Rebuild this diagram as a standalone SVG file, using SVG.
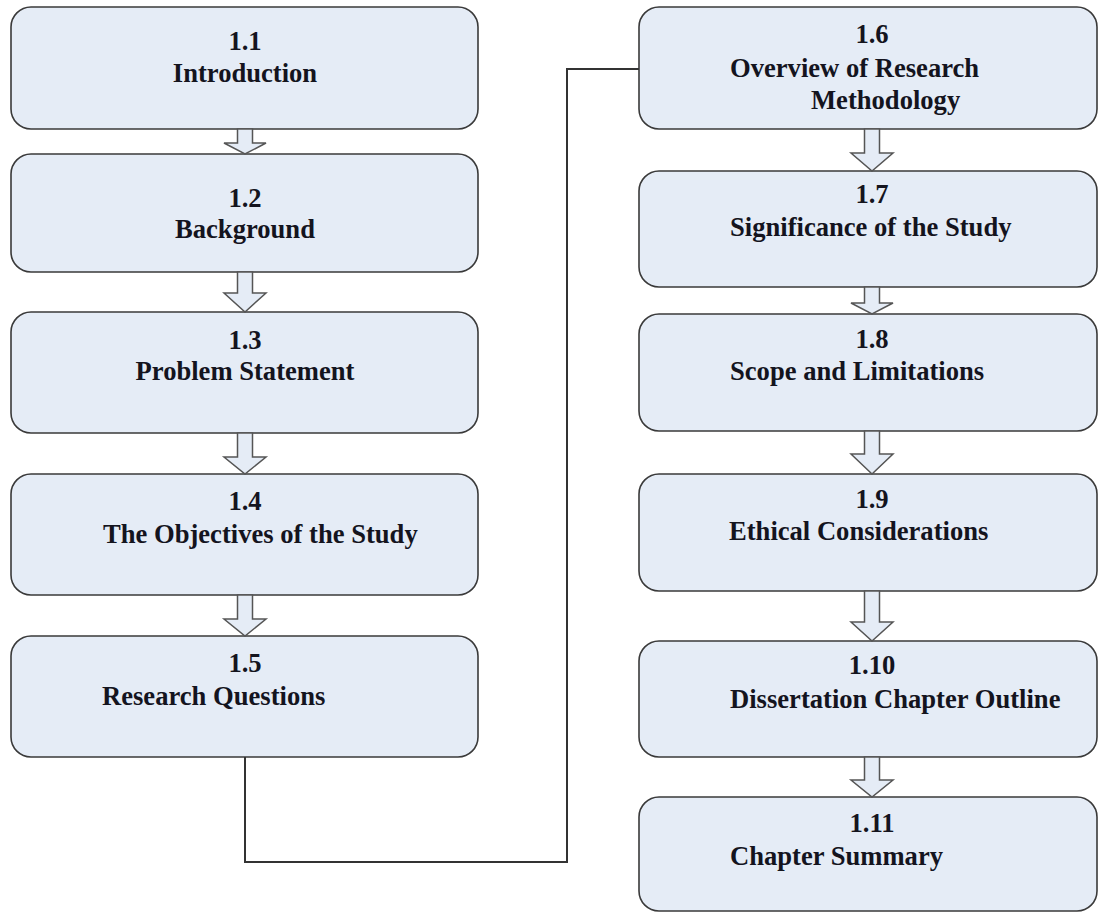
<svg xmlns="http://www.w3.org/2000/svg" width="1098" height="913" viewBox="0 0 1098 913">
<style>
.box{fill:#e5ecf6;stroke:#3a3a3a;stroke-width:1.6}
.t{font-family:"Liberation Serif","Times New Roman",serif;font-weight:bold;font-size:26.6px;fill:#14141e}
.c{text-anchor:middle}
.arr{fill:#e5ecf6;stroke:#555;stroke-width:1.5;stroke-linejoin:miter}
.line{fill:none;stroke:#333;stroke-width:2}
</style>
<rect width="1098" height="913" fill="#fff"/>
<g id="n1-1"><rect class="box" x="11" y="7" width="467" height="122" rx="20"/><text class="t c" x="245" y="50">1.1</text><text class="t c" x="245" y="82">Introduction</text></g>
<g id="n1-2"><rect class="box" x="11" y="154" width="467" height="118" rx="20"/><text class="t c" x="245" y="207">1.2</text><text class="t c" x="245" y="238">Background</text></g>
<g id="n1-3"><rect class="box" x="11" y="312" width="467" height="121" rx="20"/><text class="t c" x="245" y="349">1.3</text><text class="t c" x="245" y="380">Problem Statement</text></g>
<g id="n1-4"><rect class="box" x="11" y="474" width="467" height="121" rx="20"/><text class="t c" x="245" y="510">1.4</text><text class="t" x="103" y="543">The Objectives of the Study</text></g>
<g id="n1-5"><rect class="box" x="11" y="636" width="467" height="121" rx="20"/><text class="t c" x="245" y="672">1.5</text><text class="t" x="102" y="705">Research Questions</text></g>
<g id="n1-6"><rect class="box" x="639" y="7" width="458" height="122" rx="20"/><text class="t c" x="872" y="43">1.6</text><text class="t" x="730" y="77">Overview of Research</text><text class="t" x="811" y="109">Methodology</text></g>
<g id="n1-7"><rect class="box" x="639" y="171" width="458" height="116" rx="20"/><text class="t c" x="872" y="203">1.7</text><text class="t" x="730" y="236">Significance of the Study</text></g>
<g id="n1-8"><rect class="box" x="639" y="314" width="458" height="117" rx="20"/><text class="t c" x="872" y="348">1.8</text><text class="t" x="730" y="380">Scope and Limitations</text></g>
<g id="n1-9"><rect class="box" x="639" y="474" width="458" height="117" rx="20"/><text class="t c" x="872" y="508">1.9</text><text class="t" x="729" y="540">Ethical Considerations</text></g>
<g id="n1-10"><rect class="box" x="639" y="641" width="458" height="116" rx="20"/><text class="t c" x="872" y="674">1.10</text><text class="t" x="730" y="708">Dissertation Chapter Outline</text></g>
<g id="n1-11"><rect class="box" x="639" y="797" width="458" height="114" rx="20"/><text class="t c" x="872" y="832">1.11</text><text class="t" x="730" y="865">Chapter Summary</text></g>
<g id="connectors">
<path class="line" d="M245,757 V862 H567 V69 H639"/>
<polygon class="arr" points="237.5,129 252.5,129 252.5,143 266,143 245,154 224,143 237.5,143"/>
<polygon class="arr" points="237.5,272 252.5,272 252.5,293 266,293 245,312 224,293 237.5,293"/>
<polygon class="arr" points="237.5,433 252.5,433 252.5,457 266,457 245,474 224,457 237.5,457"/>
<polygon class="arr" points="237.5,595 252.5,595 252.5,619 266,619 245,636 224,619 237.5,619"/>
<polygon class="arr" points="864.5,129 879.5,129 879.5,153 893,153 872,171 851,153 864.5,153"/>
<polygon class="arr" points="864.5,287 879.5,287 879.5,303 893,303 872,314 851,303 864.5,303"/>
<polygon class="arr" points="864.5,431 879.5,431 879.5,454 893,454 872,474 851,454 864.5,454"/>
<polygon class="arr" points="864.5,591 879.5,591 879.5,622 893,622 872,641 851,622 864.5,622"/>
<polygon class="arr" points="864.5,757 879.5,757 879.5,780 893,780 872,797 851,780 864.5,780"/>
</g>
</svg>
